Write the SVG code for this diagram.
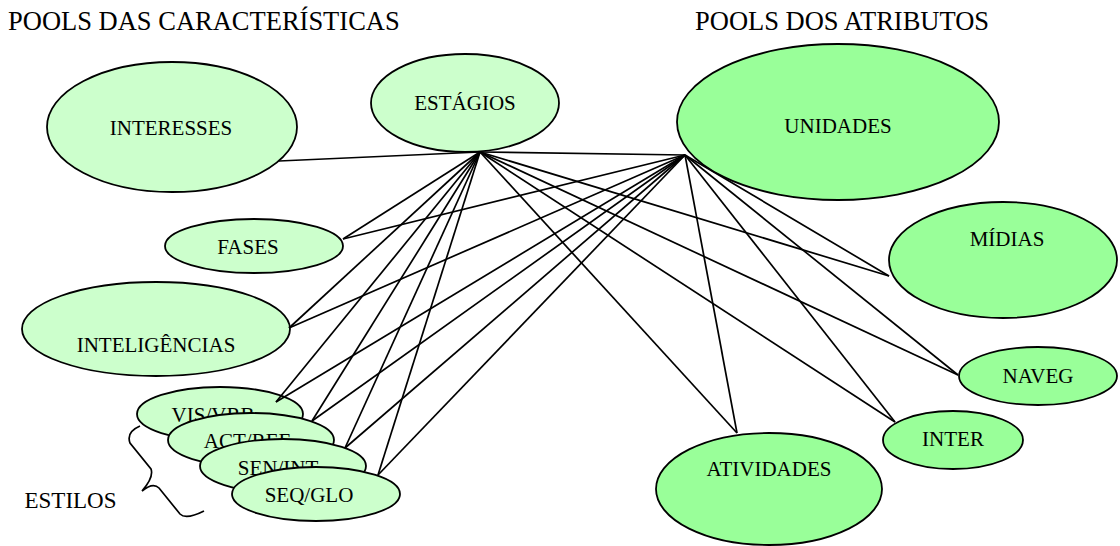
<svg xmlns="http://www.w3.org/2000/svg" width="1120" height="546" viewBox="0 0 1120 546">
<style>
.c{fill:#ccffcc;stroke:#000;stroke-width:1.8}
.a{fill:#99ff99;stroke:#000;stroke-width:1.8}
.t{font-family:"Liberation Serif","Times New Roman",serif;font-size:21px;fill:#000;text-anchor:middle}
.h{font-family:"Liberation Serif","Times New Roman",serif;font-size:26.5px;fill:#000}
#connectors line{stroke:#000;stroke-width:1.7}
</style>
<rect width="1120" height="546" fill="#fff"/>
<text class="h" x="8" y="30">POOLS DAS CARACTERÍSTICAS</text>
<text class="h" x="695" y="30">POOLS DOS ATRIBUTOS</text>

<g id="interesses"><ellipse class="c" cx="172" cy="127" rx="125" ry="65"/><text class="t" x="171" y="135">INTERESSES</text></g>
<g id="estagios"><ellipse class="c" cx="465" cy="103" rx="94" ry="49"/><text class="t" x="465" y="110">ESTÁGIOS</text></g>
<g id="unidades"><ellipse class="a" cx="838" cy="122" rx="161" ry="78"/><text class="t" x="838" y="133">UNIDADES</text></g>
<g id="fases"><ellipse class="c" cx="254" cy="246" rx="89" ry="27"/><text class="t" x="248" y="254">FASES</text></g>
<g id="inteligencias"><ellipse class="c" cx="156" cy="329" rx="134" ry="47"/><text class="t" x="156" y="352">INTELIGÊNCIAS</text></g>
<g id="vis"><ellipse class="c" cx="220" cy="414" rx="83" ry="27"/><text class="t" x="213" y="422">VIS/VRB</text></g>
<g id="act"><ellipse class="c" cx="251" cy="440" rx="83" ry="27"/><text class="t" x="247" y="448">ACT/REF</text></g>
<g id="sen"><ellipse class="c" cx="283" cy="466" rx="83" ry="27"/><text class="t" x="278" y="475">SEN/INT</text></g>
<g id="seq"><ellipse class="c" cx="316" cy="494" rx="84" ry="27"/><text class="t" x="309" y="502">SEQ/GLO</text></g>
<g id="midias"><ellipse class="a" cx="1003" cy="260" rx="114" ry="58"/><text class="t" x="1007" y="246">MÍDIAS</text></g>
<g id="naveg"><ellipse class="a" cx="1038" cy="376" rx="79" ry="29"/><text class="t" x="1038" y="383">NAVEG</text></g>
<g id="inter"><ellipse class="a" cx="953" cy="440" rx="70" ry="29"/><text class="t" x="953" y="446">INTER</text></g>
<g id="atividades"><ellipse class="a" cx="769" cy="489" rx="113" ry="56"/><text class="t" x="769" y="476">ATIVIDADES</text></g>

<g id="estilos">
<path d="M140 426 Q126 432 130 443 L151 469 Q154 477 142 491 Q153 482 159 488 L180 514 Q186 520 204 511" fill="none" stroke="#000" stroke-width="1.7"/>
<text class="t" x="70.5" y="508" style="font-size:23px">ESTILOS</text>
</g>

<g id="connectors">
<line x1="480" y1="152" x2="279" y2="161"/>
<line x1="480" y1="152" x2="685" y2="155"/>
<line x1="480" y1="152" x2="343" y2="239"/>
<line x1="480" y1="152" x2="289" y2="328"/>
<line x1="480" y1="152" x2="276" y2="402"/>
<line x1="480" y1="152" x2="312" y2="421"/>
<line x1="480" y1="152" x2="345" y2="448"/>
<line x1="480" y1="152" x2="378" y2="475"/>
<line x1="480" y1="152" x2="889" y2="276"/>
<line x1="480" y1="152" x2="958" y2="375"/>
<line x1="480" y1="152" x2="895" y2="422"/>
<line x1="480" y1="152" x2="737" y2="433"/>
<line x1="685" y1="155" x2="343" y2="239"/>
<line x1="685" y1="155" x2="289" y2="328"/>
<line x1="685" y1="155" x2="276" y2="402"/>
<line x1="685" y1="155" x2="312" y2="421"/>
<line x1="685" y1="155" x2="345" y2="448"/>
<line x1="685" y1="155" x2="378" y2="475"/>
<line x1="685" y1="155" x2="889" y2="276"/>
<line x1="685" y1="155" x2="958" y2="375"/>
<line x1="685" y1="155" x2="895" y2="422"/>
<line x1="685" y1="155" x2="737" y2="433"/>
</g>
</svg>
